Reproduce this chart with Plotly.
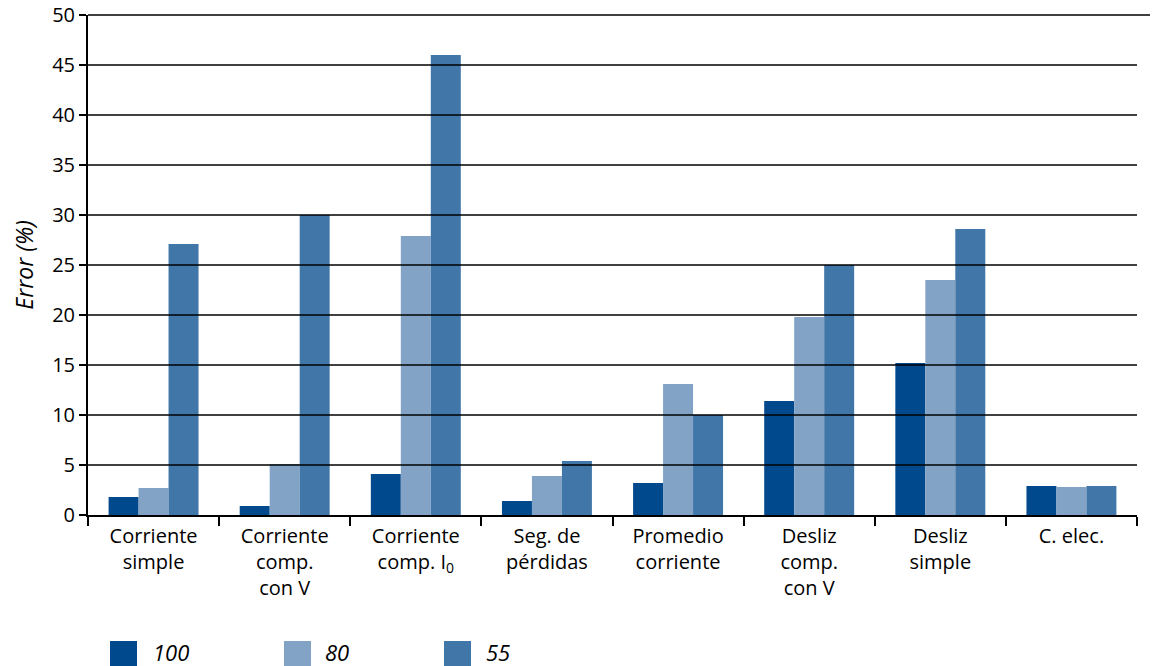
import plotly.graph_objects as go

categories = [
    "Corriente<br>simple",
    "Corriente<br>comp.<br>con V",
    "Corriente<br>comp. I<sub>0</sub>",
    "Seg. de<br>pérdidas",
    "Promedio<br>corriente",
    "Desliz<br>comp.<br>con V",
    "Desliz<br>simple",
    "C. elec.",
]
series_names = ["100", "80", "55"]
values_100 = [1.8, 0.9, 4.1, 1.4, 3.2, 11.4, 15.2, 2.9]
values_80 = [2.7, 5.1, 27.9, 3.9, 13.1, 19.8, 23.5, 2.8]
values_55 = [27.1, 30.0, 46.0, 5.4, 10.0, 25.0, 28.6, 2.9]
colors = ["#00498C", "#82A3C6", "#4176A8"]
y_ticks = [0, 5, 10, 15, 20, 25, 30, 35, 40, 45, 50]
y_range = [0, 50]

# page body has an 8px margin: figure pixel = screen pixel - 8
OFF = 8
W, H = 1158 - OFF, 666 - OFF
L, T = 88 - OFF, 15 - OFF
PW, PH = 1049, 500
R, B = W - L - PW, H - T - PH

FONT = "Open Sans"

def px_x(sx):
    return (sx - OFF - L) / PW

def px_y(sy):
    return (T + PH - (sy - OFF)) / PH

fig = go.Figure()
for name, vals, col in zip(series_names, [values_100, values_80, values_55], colors):
    fig.add_trace(go.Bar(x=categories, y=vals, name=name, marker=dict(color=col, line=dict(width=0)),
                         showlegend=False))

shapes = []
# gridlines drawn above bars
for t in y_ticks[1:]:
    yp = (t - y_range[0]) / (y_range[1] - y_range[0])
    x1 = px_x(1158) if t == y_ticks[-1] else 1
    shapes.append(dict(type="line", xref="paper", yref="paper", x0=0, x1=x1, y0=yp, y1=yp,
                       line=dict(color="black", width=1.5), layer="above"))

annotations = []
# custom legend
leg_sq_x = [110, 284, 444]
leg_txt_x = [151, 323, 484]
for i, name in enumerate(series_names):
    shapes.append(dict(type="rect", xref="paper", yref="paper",
                       x0=px_x(leg_sq_x[i]), x1=px_x(leg_sq_x[i] + 27),
                       y0=px_y(641), y1=px_y(667),
                       fillcolor=colors[i], line=dict(width=0)))
    annotations.append(dict(xref="paper", yref="paper", x=px_x(leg_txt_x[i]),
                            y=px_y(652), text=f"<i>{name}</i>", showarrow=False,
                            xanchor="left", yanchor="middle",
                            font=dict(family=FONT, size=22, color="black")))

fig.update_layout(
    width=W, height=H,
    margin=dict(l=L, r=R, t=T, b=B, pad=0, autoexpand=False),
    paper_bgcolor="white", plot_bgcolor="white",
    barmode="group", bargap=0.314, bargroupgap=0,
    font=dict(family=FONT, size=20, color="black"),
    shapes=shapes, annotations=annotations,
    showlegend=False,
)
fig.update_xaxes(
    type="category", showgrid=False, showline=True, linecolor="black", linewidth=2,
    ticks="outside", tickson="boundaries", ticklen=9, tickwidth=1.5, tickcolor="black",
    tickfont=dict(family=FONT, size=20, color="black"), ticklabelstandoff=2,
    layer="above traces", automargin=False,
)
fig.update_yaxes(
    range=y_range, tickvals=y_ticks, showgrid=False, zeroline=False,
    showline=True, linecolor="black", linewidth=2,
    ticks="outside", ticklen=7, tickwidth=1.5, tickcolor="black",
    tickfont=dict(family=FONT, size=20, color="black"), ticklabeloverflow="allow",
    title=dict(text="<i>Error (%)</i>", font=dict(family=FONT, size=23, color="black"), standoff=17),
    layer="above traces", automargin=False,
)

fig.write_html("out.html")
